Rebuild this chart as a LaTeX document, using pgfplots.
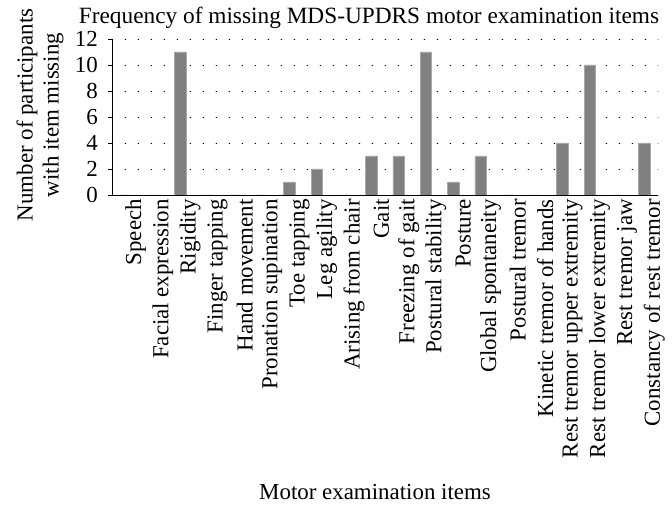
\documentclass[border=0pt]{standalone}
\usepackage{fontspec}
\setmainfont{Liberation Serif}
\usepackage{pgfplots}
\pgfplotsset{compat=1.18}
\newcommand\fs{\fontsize{23}{26}\selectfont}
\definecolor{barfill}{HTML}{808080}
\definecolor{baredge}{HTML}{A8A8A8}
\begin{document}
\fs
\begin{tikzpicture}[x=1bp,y=1bp]
\useasboundingbox (0,0) rectangle (672,507);
\begin{axis}[
  at={(112bp,312bp)}, anchor=south west,
  scale only axis, width=546bp, height=156bp,
  xmin=-0.5, xmax=19.5, ymin=0, ymax=12,
  axis x line*=bottom, axis y line*=left,
  axis line style={black, line width=0.8pt, -},
  xtick={0,...,19},
  xticklabels={Speech,Facial expression,Rigidity,Finger tapping,Hand movement,Pronation supination,Toe tapping,Leg agility,Arising from chair,Gait,Freezing of gait,Postural stability,Posture,Global spontaneity,Postural tremor,Kinetic tremor of hands,Rest tremor upper extremity,Rest tremor lower extremity,Rest tremor jaw,Constancy of rest tremor},
  xticklabel style={rotate=90, anchor=east, font=\fs, inner sep=0pt, yshift=-10bp},
  x tick style={draw=none},
  extra x ticks={0.5,1.5,...,18.5},
  extra x tick labels={},
  extra x tick style={tick align=outside, major tick length=5bp, tick style={black, line width=0.6pt, draw=black}, grid=none},
  ytick={0,2,...,12},
  tick align=outside,
  y tick style={black, line width=0.6pt},
  major tick length=4bp,
  yticklabel style={font=\fs, inner sep=0pt, xshift=-10bp, /pgf/number format/assume math mode=true},
  ymajorgrids,
  grid style={black, line width=0.8pt, dash pattern=on 0.8bp off 12.2bp, line cap=round},
  ybar, bar width=11.5bp,
]
\addplot[fill=barfill, draw=baredge, line width=0.6pt] coordinates {
(0,0) (1,0) (2,11) (3,0) (4,0) (5,0) (6,1) (7,2) (8,0) (9,3) (10,3) (11,11) (12,1) (13,3) (14,0) (15,0) (16,4) (17,10) (18,0) (19,4)};
\end{axis}
\node[font=\fontsize{23.4}{26}\selectfont] at (369,489) {Frequency of missing MDS-UPDRS motor examination items};
\node[font=\fs, rotate=90, align=center] at (40,392) {Number of participants\\with item missing};
\node[font=\fs] at (375,15) {Motor examination items};
\end{tikzpicture}
\end{document}
